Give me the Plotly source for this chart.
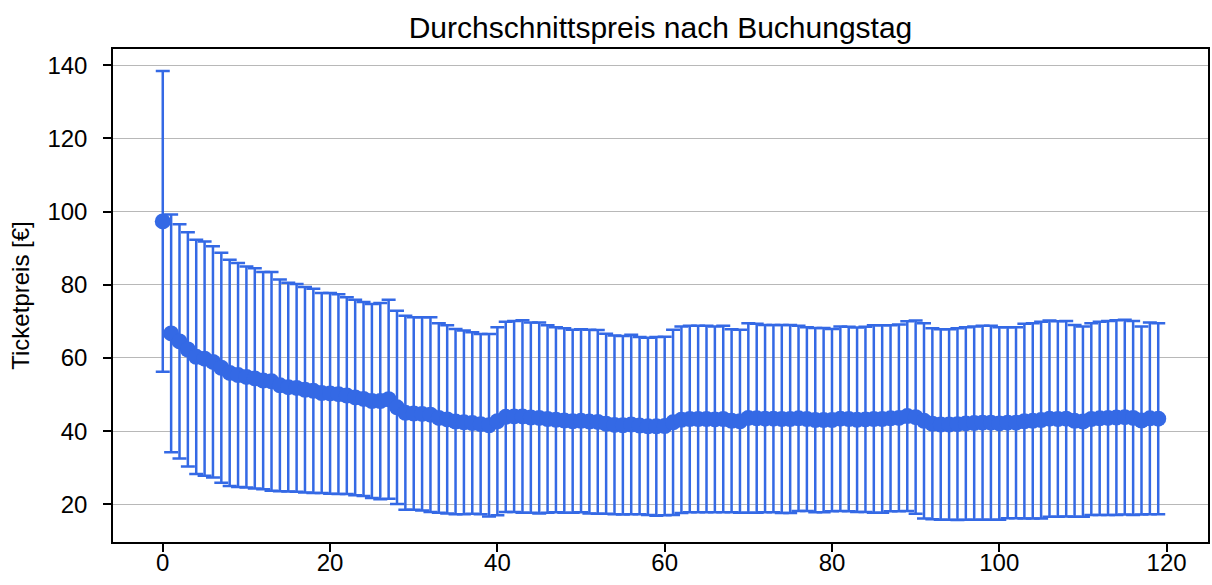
import plotly.graph_objects as go

days = list(range(120))

mean_price = [
    97.3, 66.7, 64.5, 62.3, 60.3, 59.8, 58.9, 57.3, 55.9, 55.3,
    54.8, 54.4, 53.8, 53.6, 52.5, 52.0, 51.8, 51.3, 51.0, 50.4,
    50.3, 50.1, 49.7, 49.2, 48.8, 48.2, 48.2, 48.7, 46.5, 45.0,
    44.8, 44.7, 44.5, 43.6, 43.2, 42.6, 42.4, 42.2, 41.9, 41.6,
    42.7, 43.9, 44.0, 44.0, 43.7, 43.6, 43.3, 43.1, 42.9, 42.7,
    42.8, 42.6, 42.5, 42.0, 41.7, 41.6, 41.8, 41.5, 41.3, 41.3,
    41.4, 42.4, 43.1, 43.3, 43.3, 43.3, 43.2, 43.3, 42.8, 42.7,
    43.6, 43.5, 43.4, 43.4, 43.3, 43.3, 43.5, 43.3, 43.0, 43.0,
    43.0, 43.4, 43.3, 43.1, 43.2, 43.3, 43.3, 43.5, 43.6, 44.1,
    43.8, 42.8, 42.0, 41.8, 41.8, 41.9, 42.1, 42.2, 42.3, 42.3,
    42.1, 42.3, 42.3, 42.7, 42.8, 43.0, 43.4, 43.3, 43.4, 42.8,
    42.6, 43.3, 43.5, 43.6, 43.7, 43.8, 43.6, 42.9, 43.5, 43.4,
]

std_price = [
    41.1, 32.5, 32.0, 32.0, 32.0, 32.0, 31.6, 31.4, 30.9, 30.6,
    30.2, 30.1, 29.7, 29.9, 28.9, 28.5, 28.4, 28.1, 27.9, 27.3,
    27.4, 27.3, 26.9, 26.7, 26.5, 26.5, 26.8, 27.2, 26.4, 26.5,
    26.3, 26.4, 26.6, 25.9, 25.7, 25.3, 25.1, 24.8, 24.6, 24.9,
    25.7, 26.0, 26.1, 26.3, 26.0, 26.1, 25.6, 25.3, 25.2, 25.0,
    25.0, 25.1, 25.1, 24.6, 24.4, 24.4, 24.5, 24.2, 24.2, 24.4,
    24.4, 25.3, 25.5, 25.5, 25.5, 25.5, 25.4, 25.5, 25.0, 25.0,
    25.9, 25.8, 25.6, 25.6, 25.7, 25.7, 25.3, 25.1, 25.2, 25.2,
    24.9, 25.2, 25.2, 25.2, 25.3, 25.6, 25.6, 25.4, 25.5, 25.9,
    26.4, 26.7, 26.1, 26.0, 26.0, 26.2, 26.3, 26.4, 26.5, 26.5,
    26.3, 26.1, 26.1, 26.6, 26.7, 26.9, 26.8, 26.7, 26.7, 26.2,
    26.0, 26.2, 26.4, 26.5, 26.6, 26.6, 26.5, 25.7, 26.2, 26.1,
]

x_ticks = [0, 20, 40, 60, 80, 100, 120]
y_ticks = [20, 40, 60, 80, 100, 120, 140]

color = "#3469E5"
font_family = "Liberation Sans, Arial, sans-serif"

fig = go.Figure()
fig.add_trace(go.Scatter(
    x=days,
    y=mean_price,
    mode="markers",
    marker=dict(color=color, size=16),
    error_y=dict(type="data", array=std_price, visible=True,
                 color=color, thickness=2.5, width=7),
    showlegend=False,
))

fig.update_layout(
    width=1212, height=585,
    margin=dict(l=113, r=4, t=49, b=43),
    paper_bgcolor="white",
    plot_bgcolor="white",
    font=dict(family=font_family, color="black", size=24),
    title=dict(
        text="Durchschnittspreis nach Buchungstag",
        x=0.5, xref="paper", xanchor="center",
        y=(585 - 27) / 585, yref="container", yanchor="middle",
        font=dict(size=30, family=font_family, color="black"),
    ),
    xaxis=dict(
        range=[-5.95, 124.95],
        tickvals=x_ticks,
        ticks="outside", ticklen=8, tickwidth=1.5, tickcolor="black",
        showgrid=False, zeroline=False,
        showline=True, linecolor="black", linewidth=1.5, mirror=True,
        tickfont=dict(size=24),
        ticklabelstandoff=-10,
        automargin=False,
    ),
    yaxis=dict(
        range=[9.7, 144.4],
        tickvals=y_ticks,
        ticks="outside", ticklen=8, tickwidth=1.5, tickcolor="black",
        showgrid=True, gridcolor="#b8b8b8", gridwidth=1.3,
        zeroline=False,
        showline=True, linecolor="black", linewidth=1.5, mirror=True,
        tickfont=dict(size=24),
        ticklabelstandoff=11,
        automargin=False,
        title=dict(text="Ticketpreis [€]", standoff=11, font=dict(size=24)),
    ),
)

fig.write_html("out.html", config={"displayModeBar": False},
               post_script="document.body.style.margin='0';")
